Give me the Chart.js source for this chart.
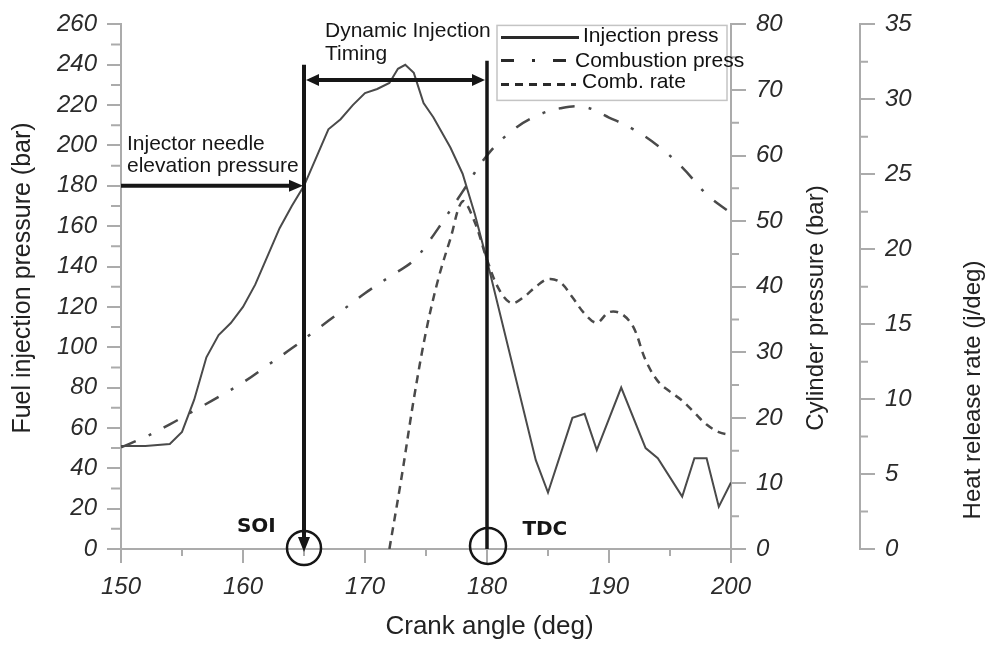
<!DOCTYPE html>
<html>
<head>
<meta charset="utf-8">
<title>Injection / combustion pressure vs crank angle</title>
<script src="https://cdn.jsdelivr.net/npm/chart.js@4.4.0/dist/chart.umd.min.js"></script>
<style>
  html, body { margin: 0; padding: 0; background: #fff; }
  canvas { display: block; }
</style>
</head>
<body>
<canvas id="chart" width="989" height="646"></canvas>
<script>
// ─── Data ────────────────────────────────────────────────────────────────────
// Fuel injection pressure (bar, left axis)
const injAngle = [150, 152, 154, 155, 156, 157, 158, 159, 160, 161, 162, 163, 164, 165,
                  166, 167, 168, 169, 170, 171, 172, 172.7, 173.3, 174, 174.8, 175.6, 177,
                  178, 179, 180, 184, 185, 187, 188, 189, 191, 193, 194, 196, 197, 198, 199, 200];
const injPress = [51, 51, 52, 58, 74, 95, 106, 112, 120, 131, 145, 159, 170, 180,
                  194, 208, 213, 220, 226, 228, 231, 238, 240, 236, 221, 214, 199,
                  186, 166, 143, 44, 28, 65, 67, 49, 80, 50, 45, 26, 45, 45, 21, 33];

// Cylinder (combustion) pressure (bar, first right axis)
const combAngle = [150, 152, 154, 156, 158, 160, 162, 164, 166, 168, 170, 172, 174, 175,
                   176, 178, 180, 182, 184, 186, 188, 190, 192, 194, 196, 198, 200];
const combPress = [15.5, 17.1, 19.0, 21.1, 23.2, 25.4, 28.0, 30.6, 33.4, 36.2, 39.0, 41.5, 44.0, 46.3,
                   48.9, 54.5, 60.0, 63.7, 66.0, 67.2, 67.4, 65.8, 64.0, 61.5, 58.2, 54.1, 51.2];

// Heat release rate (J/deg, second right axis)
const rateAngle = [172, 173, 174, 175, 176, 177, 178, 179, 180, 181, 182, 183, 184, 185, 186,
                   187, 188, 189, 190, 191, 192, 193, 194, 195, 196, 197, 198, 199, 200];
const heatRate  = [0, 4.8, 10.0, 14.5, 18.0, 20.7, 23.2, 21.8, 19.3, 17.3, 16.4, 16.8, 17.5, 18.0, 17.8,
                   16.8, 15.7, 15.1, 15.8, 15.7, 14.8, 12.6, 11.2, 10.5, 9.9, 9.1, 8.3, 7.8, 7.6];

const seriesNames = ['Injection press', 'Combustion press', 'Comb. rate'];

// Tick labels
const xTicks    = [150, 160, 170, 180, 190, 200];
const fuelTicks = [0, 20, 40, 60, 80, 100, 120, 140, 160, 180, 200, 220, 240, 260];
const cylTicks  = [0, 10, 20, 30, 40, 50, 60, 70, 80];
const heatTicks = [0, 5, 10, 15, 20, 25, 30, 35];

// Event markers
const soiAngle = 165;      // start of injection
const tdcAngle = 180;      // top dead centre
const needlePress = 180;   // injector needle elevation pressure (bar)

// ─── Styling ─────────────────────────────────────────────────────────────────
const FONT = "'Liberation Sans', Arial, sans-serif";
const AXIS = '#ababab';
const LINE = '#4a4a4a';
const INK = '#161616';
const DASH_DOT = [16, 14, 3, 14];
const DASH = [8, 6];

const tickFont = { family: FONT, size: 24, style: 'italic' };

function fixedTicks(list) {
    return scale => { scale.ticks = list.map(v => ({ value: v })); };
}

function arrowHead(ctx, x, y, angle, len, half) {
    ctx.save();
    ctx.translate(x, y);
    ctx.rotate(angle);
    ctx.beginPath();
    ctx.moveTo(0, 0);
    ctx.lineTo(-len, -half);
    ctx.lineTo(-len, half);
    ctx.closePath();
    ctx.fill();
    ctx.restore();
}

// Minor ticks, axis titles, annotations and the boxed legend
const decorations = {
    id: 'decorations',
    afterDraw(chart) {
        const { ctx, chartArea: ca } = chart;
        const { x, y, y1, y2 } = chart.scales;

        // minor ticks
        ctx.save();
        ctx.strokeStyle = AXIS;
        ctx.lineWidth = 2;
        ctx.beginPath();
        for (let v = 155; v < 200; v += 10) {
            const px = x.getPixelForValue(v);
            ctx.moveTo(px, ca.bottom); ctx.lineTo(px, ca.bottom + 7);
        }
        for (let v = 10; v < 260; v += 20) {
            const py = y.getPixelForValue(v);
            ctx.moveTo(ca.left - 10, py); ctx.lineTo(ca.left, py);
        }
        for (let v = 5; v < 80; v += 10) {
            const py = y1.getPixelForValue(v);
            ctx.moveTo(y1.left, py); ctx.lineTo(y1.left + 8, py);
        }
        for (let v = 2.5; v < 35; v += 5) {
            const py = y2.getPixelForValue(v);
            ctx.moveTo(y2.left, py); ctx.lineTo(y2.left + 8, py);
        }
        ctx.stroke();
        ctx.restore();

        // axis titles
        ctx.save();
        ctx.fillStyle = '#222';
        ctx.textAlign = 'center';
        ctx.textBaseline = 'middle';
        ctx.font = `26px ${FONT}`;
        ctx.fillText('Crank angle (deg)', chart.width / 2 - 5, 627);
        const vTitle = (text, cx, cy, size) => {
            ctx.save();
            ctx.translate(cx, cy);
            ctx.rotate(-Math.PI / 2);
            ctx.font = `${size}px ${FONT}`;
            ctx.fillText(text, 0, 0);
            ctx.restore();
        };
        vTitle('Fuel injection pressure (bar)', 23, 278, 25);
        vTitle('Cylinder pressure (bar)', y1.left + 85, 308, 24);
        vTitle('Heat release rate (j/deg)', y2.left + 113, 390, 24);
        ctx.restore();

        // annotations
        const xs = x.getPixelForValue(soiAngle);
        const xt = x.getPixelForValue(tdcAngle);
        const y0 = y.getPixelForValue(0);
        ctx.save();
        ctx.strokeStyle = INK;
        ctx.fillStyle = INK;
        ctx.lineCap = 'butt';

        // SOI vertical with arrow down
        ctx.lineWidth = 4;
        ctx.beginPath();
        ctx.moveTo(xs, y.getPixelForValue(240));
        ctx.lineTo(xs, y0 - 10);
        ctx.stroke();
        arrowHead(ctx, xs, y0 + 3, Math.PI / 2, 15, 6);

        // TDC vertical
        ctx.lineWidth = 3.5;
        ctx.beginPath();
        ctx.moveTo(xt, y.getPixelForValue(242));
        ctx.lineTo(xt, y0);
        ctx.stroke();

        // dynamic injection timing double arrow
        const yd = y.getPixelForValue(232.5);
        ctx.lineWidth = 4;
        ctx.beginPath();
        ctx.moveTo(xs + 10, yd);
        ctx.lineTo(xt - 10, yd);
        ctx.stroke();
        arrowHead(ctx, xs + 2, yd, Math.PI, 13, 6);
        arrowHead(ctx, xt - 2, yd, 0, 13, 6);

        // injector needle elevation pressure arrow
        const yn = y.getPixelForValue(needlePress);
        ctx.lineWidth = 4;
        ctx.beginPath();
        ctx.moveTo(ca.left, yn);
        ctx.lineTo(xs - 10, yn);
        ctx.stroke();
        arrowHead(ctx, xs - 1, yn, 0, 14, 6);

        // circles at SOI and TDC
        ctx.lineWidth = 2.5;
        ctx.beginPath();
        ctx.arc(xs, y0 - 1, 17, 0, Math.PI * 2);
        ctx.stroke();
        ctx.beginPath();
        ctx.arc(xt + 1, y0 - 3, 18, 0, Math.PI * 2);
        ctx.stroke();

        // texts
        ctx.textAlign = 'left';
        ctx.textBaseline = 'alphabetic';
        ctx.font = `21px ${FONT}`;
        ctx.fillText('Injector needle', ca.left + 6, yn - 36);
        ctx.fillText('elevation pressure', ca.left + 6, yn - 14);
        ctx.fillText('Dynamic Injection', xs + 21, ca.top + 13);
        ctx.fillText('Timing', xs + 21, ca.top + 36);
        ctx.font = `bold 20px 'DejaVu Sans', ${FONT}`;
        ctx.fillText('SOI', x.getPixelForValue(159.5), y0 - 17);
        ctx.fillText('TDC', x.getPixelForValue(182.9), y0 - 14);
        ctx.restore();

        // legend box
        const lx = ca.right - 234, ly = ca.top + 1;
        ctx.save();
        ctx.fillStyle = '#fff';
        ctx.strokeStyle = '#c4c4c4';
        ctx.lineWidth = 1.5;
        ctx.fillRect(lx, ly, 230, 75);
        ctx.strokeRect(lx, ly, 230, 75);
        const rows = [
            { ly: 12, x1: 82, tx: 86, ty: 17, dash: [] },
            { ly: 35, x1: 77, tx: 78, ty: 42, dash: [13, 18, 3, 18] },
            { ly: 59, x1: 79, tx: 85, ty: 63, dash: DASH }
        ];
        ctx.font = `21px ${FONT}`;
        ctx.textAlign = 'left';
        ctx.textBaseline = 'alphabetic';
        rows.forEach((r, i) => {
            ctx.strokeStyle = '#2a2a2a';
            ctx.lineWidth = 3;
            ctx.setLineDash(r.dash);
            ctx.beginPath();
            ctx.moveTo(lx + 4, ly + r.ly);
            ctx.lineTo(lx + r.x1, ly + r.ly);
            ctx.stroke();
            ctx.setLineDash([]);
            ctx.fillStyle = '#111';
            ctx.fillText(seriesNames[i], lx + r.tx, ly + r.ty);
        });
        ctx.restore();
    }
};

const toPoints = (xsArr, ysArr) => xsArr.map((a, i) => ({ x: a, y: ysArr[i] }));

function rightAxis(min, max, ticks, pad, width) {
    return {
        type: 'linear', position: 'right', min, max,
        afterBuildTicks: fixedTicks(ticks),
        ticks: { font: tickFont, color: '#2b2b2b', padding: pad, autoSkip: false },
        grid: { drawOnChartArea: false, tickLength: 15, color: AXIS, lineWidth: 2 },
        border: { color: AXIS, width: 2 },
        afterFit: s => { s.width = width; }
    };
}

new Chart(document.getElementById('chart'), {
    type: 'line',
    data: {
        datasets: [
            {
                label: seriesNames[0], yAxisID: 'y',
                data: toPoints(injAngle, injPress),
                borderColor: LINE, borderWidth: 2, pointRadius: 0, tension: 0
            },
            {
                label: seriesNames[1], yAxisID: 'y1',
                data: toPoints(combAngle, combPress),
                borderColor: LINE, borderWidth: 2.5, borderDash: DASH_DOT, pointRadius: 0, tension: 0.4
            },
            {
                label: seriesNames[2], yAxisID: 'y2',
                data: toPoints(rateAngle, heatRate),
                borderColor: LINE, borderWidth: 2.5, borderDash: DASH, pointRadius: 0, tension: 0.35
            }
        ]
    },
    options: {
        responsive: false,
        animation: false,
        layout: { padding: { top: 19, left: 0, right: 0, bottom: 0 } },
        plugins: { legend: { display: false }, tooltip: { enabled: false } },
        scales: {
            x: {
                type: 'linear', position: 'bottom', min: 150, max: 200,
                afterBuildTicks: fixedTicks(xTicks),
                ticks: { font: tickFont, color: '#2b2b2b', padding: 10, autoSkip: false, maxRotation: 0 },
                grid: { drawOnChartArea: false, tickLength: 14, color: AXIS, lineWidth: 2 },
                border: { color: AXIS, width: 2 },
                afterFit: s => { s.height = 97; }
            },
            y: {
                type: 'linear', position: 'left', min: 0, max: 260,
                afterBuildTicks: fixedTicks(fuelTicks),
                ticks: { font: tickFont, color: '#2b2b2b', padding: 10, autoSkip: false },
                grid: { drawOnChartArea: false, tickLength: 14, color: AXIS, lineWidth: 2 },
                border: { color: AXIS, width: 2 },
                afterFit: s => { s.width = 121; }
            },
            y1: rightAxis(0, 80, cylTicks, 10, 129),
            y2: rightAxis(0, 35, heatTicks, 10, 129)
        }
    },
    plugins: [decorations]
});
</script>
</body>
</html>
